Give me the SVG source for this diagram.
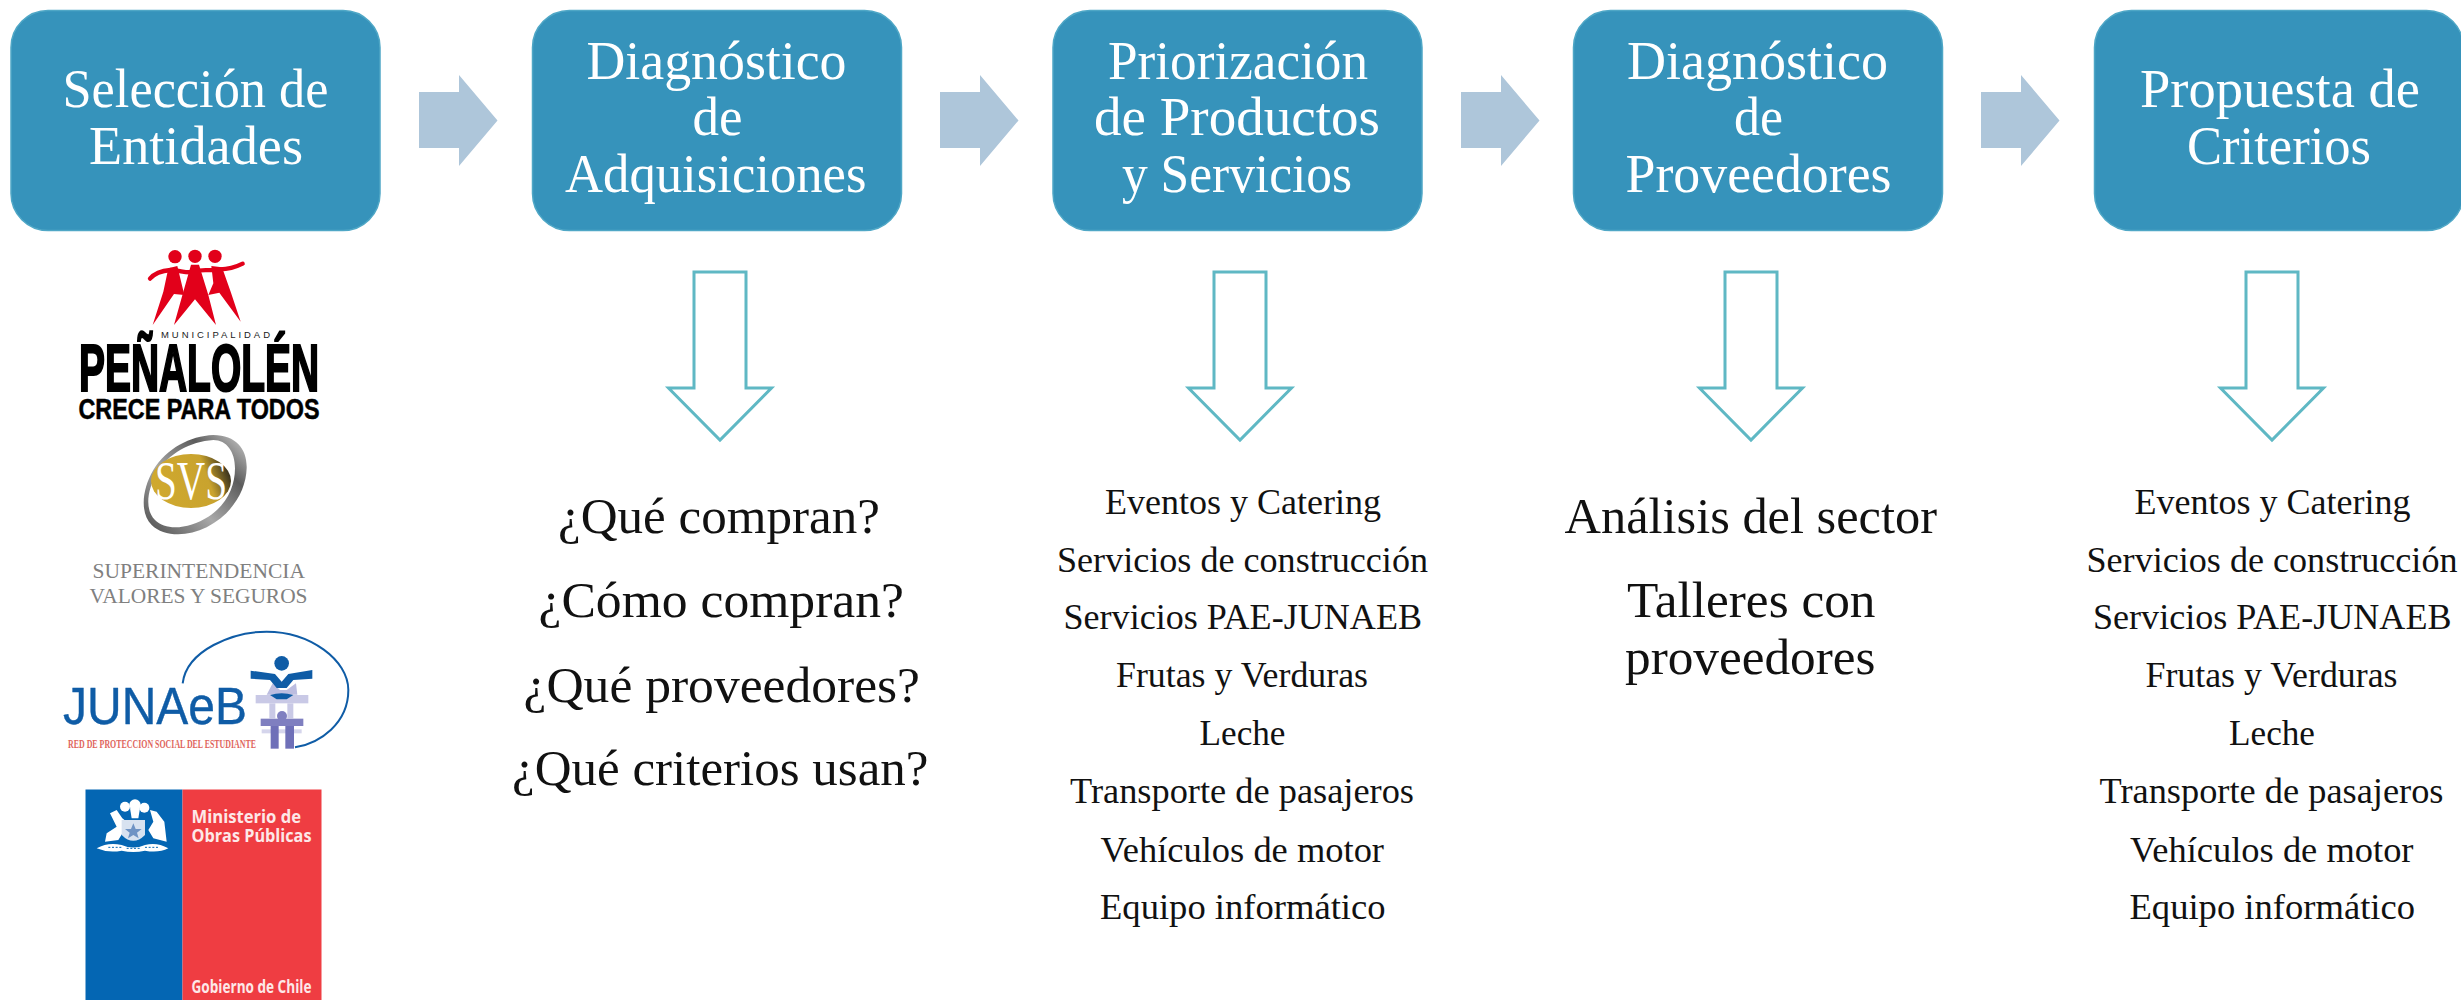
<svg xmlns="http://www.w3.org/2000/svg" width="2461" height="1000" viewBox="0 0 2461 1000">
<style>
text{font-family:"Liberation Serif","Times New Roman",serif;white-space:pre}
.box{fill:#3693bb;stroke:#4fa7c6;stroke-width:1.5}
.t{fill:#fff;font-size:55px}
.q{fill:#111;font-size:50px}
.l{fill:#111;font-size:36px}
.flow{fill:#aec6da}
.down{fill:#fff;stroke:#5fb8c4;stroke-width:3;stroke-linejoin:miter}
.san{font-family:"Liberation Sans",Arial,sans-serif}
.mop{font-family:"Open Sans","Liberation Sans",sans-serif;font-weight:700;fill:#fde8e8;font-size:18px}
.svs{fill:#808080;font-size:20px}
</style>
<defs>
<path id="flow" d="M0,17 H40 V0 L78.500,45.500 L40,91 V73 H0 Z"/>
<path id="down" d="M-26,0 H26 V116 H51.500 L0,168 L-51.500,116 H-26 Z"/>
<linearGradient id="gold" x1="0" x2="1" y1="0.6" y2="0.35"><stop offset="0" stop-color="#d0a92f"/><stop offset="0.7" stop-color="#c9a32e"/><stop offset="1" stop-color="#2f2a1c"/></linearGradient>
<linearGradient id="ring" x1="0" x2="1" y1="1" y2="0"><stop offset="0" stop-color="#4a4a4a"/><stop offset="0.4" stop-color="#a8a8a8"/><stop offset="0.72" stop-color="#5c5c5c"/><stop offset="1" stop-color="#cfcfcf"/></linearGradient>
</defs>

<g id="connectors">
<use href="#flow" class="flow" x="419" y="75"/>
<use href="#flow" class="flow" x="940" y="75"/>
<use href="#flow" class="flow" x="1461" y="75"/>
<use href="#flow" class="flow" x="1981" y="75"/>
<use href="#down" class="down" x="720" y="272"/>
<use href="#down" class="down" x="1240" y="272"/>
<use href="#down" class="down" x="1751" y="272"/>
<use href="#down" class="down" x="2272" y="272"/>
</g>

<g id="node-seleccion">
<rect class="box" x="11" y="10.500" width="369" height="220" rx="37"/>
<text class="t" x="62.500" y="107" textLength="266" lengthAdjust="spacingAndGlyphs">Selección de</text>
<text class="t" x="89" y="164" textLength="214" lengthAdjust="spacingAndGlyphs">Entidades</text>
</g>
<g id="node-diagnostico-adquisiciones">
<rect class="box" x="532.500" y="10.500" width="369" height="220" rx="37"/>
<text class="t" x="586.500" y="79" textLength="260" lengthAdjust="spacingAndGlyphs">Diagnóstico</text>
<text class="t" x="692.500" y="135" textLength="50" lengthAdjust="spacingAndGlyphs">de</text>
<text class="t" x="565" y="192" textLength="301.500" lengthAdjust="spacingAndGlyphs">Adquisiciones</text>
</g>
<g id="node-priorizacion">
<rect class="box" x="1053" y="10.500" width="369" height="220" rx="37"/>
<text class="t" x="1108" y="79" textLength="260" lengthAdjust="spacingAndGlyphs">Priorización</text>
<text class="t" x="1094" y="135" textLength="286" lengthAdjust="spacingAndGlyphs">de Productos</text>
<text class="t" x="1122" y="192" textLength="230" lengthAdjust="spacingAndGlyphs">y Servicios</text>
</g>
<g id="node-diagnostico-proveedores">
<rect class="box" x="1573.500" y="10.500" width="369" height="220" rx="37"/>
<text class="t" x="1627" y="79" textLength="261" lengthAdjust="spacingAndGlyphs">Diagnóstico</text>
<text class="t" x="1734" y="135" textLength="49" lengthAdjust="spacingAndGlyphs">de</text>
<text class="t" x="1625.500" y="192" textLength="266" lengthAdjust="spacingAndGlyphs">Proveedores</text>
</g>
<g id="node-propuesta">
<rect class="box" x="2094.500" y="10.500" width="369" height="220" rx="37"/>
<text class="t" x="2140" y="107" textLength="280" lengthAdjust="spacingAndGlyphs">Propuesta de</text>
<text class="t" x="2187" y="164" textLength="184" lengthAdjust="spacingAndGlyphs">Criterios</text>
</g>

<g id="preguntas">
<text class="q" x="558" y="533" textLength="322" lengthAdjust="spacingAndGlyphs">¿Qué compran?</text>
<text class="q" x="538.500" y="617" textLength="365.500" lengthAdjust="spacingAndGlyphs">¿Cómo compran?</text>
<text class="q" x="523.500" y="701.500" textLength="396.500" lengthAdjust="spacingAndGlyphs">¿Qué proveedores?</text>
<text class="q" x="512" y="785" textLength="416.500" lengthAdjust="spacingAndGlyphs">¿Qué criterios usan?</text>
</g>

<g id="lista-productos">
<text class="l" x="1105" y="513.500" textLength="276" lengthAdjust="spacingAndGlyphs">Eventos y Catering</text>
<text class="l" x="1057" y="571.500" textLength="371" lengthAdjust="spacingAndGlyphs">Servicios de construcción</text>
<text class="l" x="1063.500" y="629" textLength="358.500" lengthAdjust="spacingAndGlyphs">Servicios PAE-JUNAEB</text>
<text class="l" x="1116" y="687" textLength="252" lengthAdjust="spacingAndGlyphs">Frutas y Verduras</text>
<text class="l" x="1199.500" y="744.500" textLength="86" lengthAdjust="spacingAndGlyphs">Leche</text>
<text class="l" x="1070" y="803" textLength="344" lengthAdjust="spacingAndGlyphs">Transporte de pasajeros</text>
<text class="l" x="1100.500" y="861.500" textLength="283.500" lengthAdjust="spacingAndGlyphs">Vehículos de motor</text>
<text class="l" x="1100" y="918.500" textLength="285.500" lengthAdjust="spacingAndGlyphs">Equipo informático</text>
</g>

<g id="proveedores">
<text class="q" x="1564.500" y="533" textLength="372.500" lengthAdjust="spacingAndGlyphs">Análisis del sector</text>
<text class="q" x="1627" y="616.500" textLength="248.500" lengthAdjust="spacingAndGlyphs">Talleres con</text>
<text class="q" x="1625" y="674" textLength="250.500" lengthAdjust="spacingAndGlyphs">proveedores</text>
</g>

<g id="lista-criterios">
<text class="l" x="2134.500" y="513.500" textLength="276" lengthAdjust="spacingAndGlyphs">Eventos y Catering</text>
<text class="l" x="2086.500" y="571.500" textLength="371" lengthAdjust="spacingAndGlyphs">Servicios de construcción</text>
<text class="l" x="2093" y="629" textLength="358.500" lengthAdjust="spacingAndGlyphs">Servicios PAE-JUNAEB</text>
<text class="l" x="2145.500" y="687" textLength="252" lengthAdjust="spacingAndGlyphs">Frutas y Verduras</text>
<text class="l" x="2229" y="744.500" textLength="86" lengthAdjust="spacingAndGlyphs">Leche</text>
<text class="l" x="2099.500" y="803" textLength="344" lengthAdjust="spacingAndGlyphs">Transporte de pasajeros</text>
<text class="l" x="2130" y="861.500" textLength="283.500" lengthAdjust="spacingAndGlyphs">Vehículos de motor</text>
<text class="l" x="2129.500" y="918.500" textLength="285.500" lengthAdjust="spacingAndGlyphs">Equipo informático</text>
</g>

<g id="logo-penalolen">
<g transform="translate(0,220) scale(.33333)" fill="#e2001a">
<circle cx="525" cy="110" r="20"/><circle cx="585" cy="109" r="20"/><circle cx="645" cy="109" r="20"/>
<path d="M450,176 C465,158 490,152 512,150 C540,150 560,162 585,155 C610,145 630,155 660,148 C690,148 710,140 728,131" fill="none" stroke="#e2001a" stroke-width="13" stroke-linecap="round"/>
<path d="M505,145 L532,138 L553,225 L522,222 L458,315 L490,215 Z"/>
<path d="M573,134 L597,134 L625,225 L648,315 L585,238 L522,315 L550,215 Z"/>
<path d="M634,138 L666,142 L692,215 L722,305 L658,218 L625,225 L640,190 Z"/>
</g>
<text class="san" x="161" y="338" font-size="9.500" fill="#1a1a1a" textLength="109" lengthAdjust="spacing">MUNICIPALIDAD</text>
<text class="san" x="79" y="390.500" font-size="66" font-weight="700" fill="#000" stroke="#000" stroke-width="2.200" textLength="240" lengthAdjust="spacingAndGlyphs">PEÑALOLÉN</text>
<text class="san" x="78.500" y="419" font-size="29" font-weight="700" fill="#000" stroke="#000" stroke-width=".5" textLength="241" lengthAdjust="spacingAndGlyphs">CRECE PARA TODOS</text>
</g>

<g id="logo-svs">
<path transform="translate(0,220) scale(.33333)" fill="url(#ring)" fill-rule="evenodd" d="M640,645 C710,645 742,690 740,745 C738,810 700,880 620,922 C560,952 490,950 455,915 C420,880 425,810 460,750 C500,685 570,648 640,645 Z M640,660 C570,665 505,700 470,760 C440,815 435,870 465,900 C500,935 570,925 625,890 C680,855 705,800 705,745 C705,695 680,660 640,660 Z"/>
<ellipse cx="191" cy="481" rx="40" ry="27" fill="url(#gold)"/>
<text x="155" y="499" font-size="54" fill="#fff" textLength="72" lengthAdjust="spacingAndGlyphs">SVS</text>
<text class="svs" x="92.500" y="578" textLength="212.500" lengthAdjust="spacingAndGlyphs">SUPERINTENDENCIA</text>
<text class="svs" x="89.500" y="603" textLength="218" lengthAdjust="spacingAndGlyphs">VALORES Y SEGUROS</text>
</g>

<g id="logo-junaeb">
<text class="san" x="63" y="724" font-size="51" fill="#0f5ca6" stroke="#0f5ca6" stroke-width=".4" textLength="184" lengthAdjust="spacingAndGlyphs">JUNAeB</text>
<text x="68" y="748" font-size="11.500" font-weight="700" fill="#e0655c" textLength="188" lengthAdjust="spacingAndGlyphs">RED DE PROTECCION SOCIAL DEL ESTUDIANTE</text>
<g transform="translate(0,600) scale(.33333)">
<path d="M548,250 C560,150 700,95 800,95 C930,95 1045,180 1045,270 C1045,370 960,430 885,442" fill="none" stroke="#0f5ca6" stroke-width="6"/>
<rect x="767" y="285" width="158" height="25" fill="#c9c9e6"/>
<path d="M818,250 L840,270 L860,270 L888,250 L892,284 L800,284 Z" fill="#bcbde0"/>
<rect x="785" y="388" width="120" height="12" fill="#d5d5ec"/>
<circle cx="845" cy="190" r="22" fill="#0f5ca6"/>
<path d="M752,212 L825,222 L845,245 L865,222 L937,210 L937,236 L880,240 L860,264 L830,264 L810,240 L752,236 Z" fill="#0f5ca6"/>
<path d="M810,285 Q845,275 880,285 L860,298 L830,298 Z" fill="#0f5ca6"/>
<rect x="808" y="310" width="18" height="45" fill="#c9c9e6"/><rect x="862" y="310" width="18" height="45" fill="#c9c9e6"/>
<circle cx="846" cy="348" r="15" fill="#7f7fc0"/>
<rect x="782" y="356" width="128" height="22" fill="#7f7fc0"/>
<rect x="812" y="378" width="24" height="68" fill="#6f70b8"/><rect x="856" y="378" width="26" height="68" fill="#6f70b8"/>
</g>
</g>

<g id="logo-mop">
<rect x="85.500" y="789.500" width="97" height="210.500" fill="#0466b3"/>
<rect x="182.500" y="789.500" width="139" height="210.500" fill="#ef3d42"/>
<g transform="translate(85,785) scale(.33333)" fill="#fff">
<circle cx="120" cy="65" r="15"/><circle cx="150" cy="60" r="17"/><circle cx="178" cy="68" r="15"/>
<path d="M135,70 H165 L160,100 H140 Z"/>
<path d="M75,85 L95,75 L112,100 L125,110 L115,140 L100,165 L60,170 L65,145 L95,125 Z"/>
<path d="M195,75 L215,80 L238,110 L245,170 L225,165 L205,160 L190,135 L205,110 Z"/>
<path d="M110,105 H180 V150 Q145,185 110,150 Z" fill="#d8e2f0"/>
<path d="M145,115 L152,132 L170,132 L156,143 L161,160 L145,150 L129,160 L134,143 L120,132 L138,132 Z" fill="#6f93c4"/>
<path d="M35,190 Q70,170 110,180 Q145,195 180,180 Q215,170 250,190 Q220,205 180,197 Q145,205 110,197 Q70,205 35,190 Z"/>
<path d="M70,187 H110 M125,190 H165 M180,187 H220" stroke="#0466b3" stroke-width="3" stroke-dasharray="6 5" fill="none"/>
</g>
<text class="mop" x="191.500" y="823" textLength="109.500" lengthAdjust="spacingAndGlyphs">Ministerio de</text>
<text class="mop" x="191.500" y="842" textLength="120" lengthAdjust="spacingAndGlyphs">Obras Públicas</text>
<text class="mop" x="191.500" y="993" textLength="120" lengthAdjust="spacingAndGlyphs">Gobierno de Chile</text>
</g>
</svg>
